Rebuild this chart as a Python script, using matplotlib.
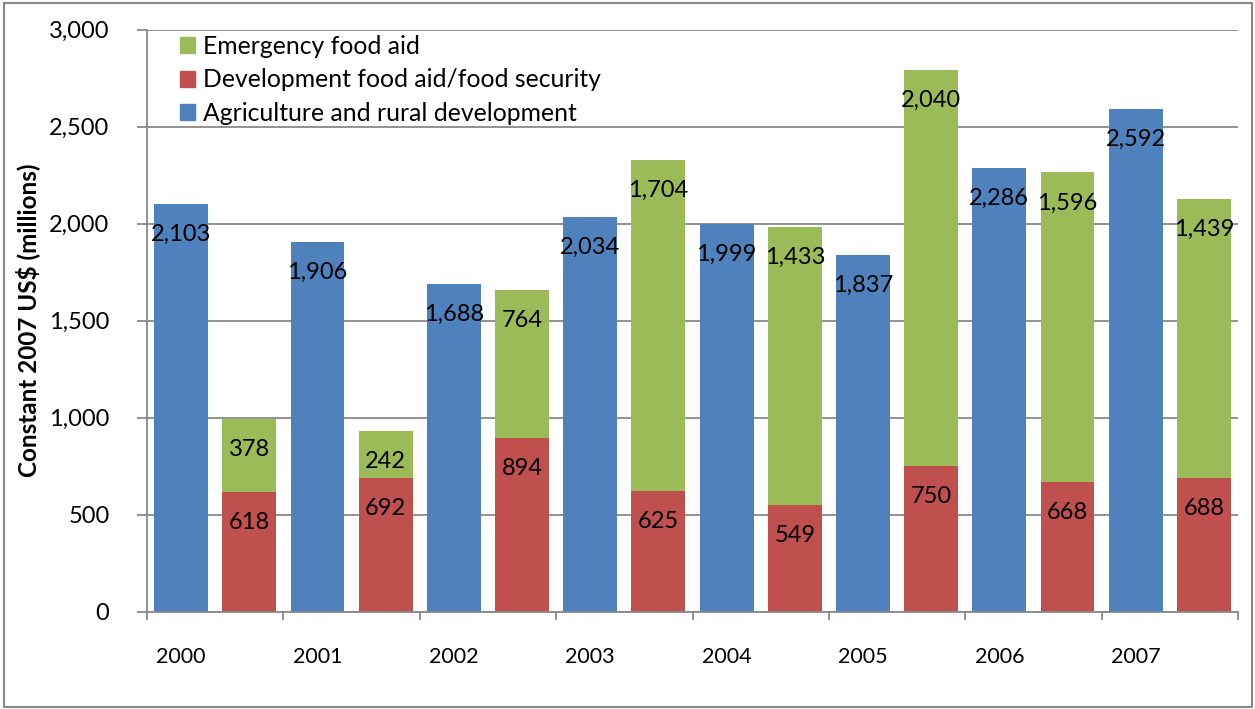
import matplotlib
matplotlib.use("Agg")
import matplotlib.pyplot as plt
import matplotlib.transforms as mtransforms
from matplotlib.patches import Patch, Rectangle
from matplotlib.ticker import FuncFormatter, MultipleLocator

years = ["2000", "2001", "2002", "2003", "2004", "2005", "2006", "2007"]
agriculture = [2103, 1906, 1688, 2034, 1999, 1837, 2286, 2592]
development = [618, 692, 894, 625, 549, 750, 668, 688]
emergency = [378, 242, 764, 1704, 1433, 2040, 1596, 1439]

BLUE = "#4F81BD"
RED = "#C0504D"
GREEN = "#9BBB59"
GREY = "#898989"

plt.rcParams["font.family"] = ["Lato", "DejaVu Sans"]
FS = 17

fig = plt.figure(figsize=(12.55, 7.09), dpi=100)
ax = fig.add_axes([147 / 1255, 1 - 612 / 709, (1238 - 147) / 1255, (612 - 29.5) / 709])

# each year gets two slots: agriculture alone, then food aid stacked
x_agri = [2 * i for i in range(len(years))]
x_food = [2 * i + 1 for i in range(len(years))]
width = 0.79

b_agri = ax.bar(x_agri, agriculture, width, color=BLUE, zorder=2)
b_dev = ax.bar(x_food, development, width, color=RED, zorder=2)
b_emg = ax.bar(x_food, emergency, width, bottom=development, color=GREEN, zorder=2)


def label_segments(bars, values, bottoms):
    for rect, v, b in zip(bars, values, bottoms):
        ax.annotate(f"{v:,}", (rect.get_x() + rect.get_width() / 2, b + v),
                    xytext=(0, -37 * 72 / 100), textcoords="offset points",
                    ha="center", va="baseline", fontsize=FS, zorder=3)


label_segments(b_agri, agriculture, [0] * len(years))
label_segments(b_dev, development, [0] * len(years))
label_segments(b_emg, emergency, development)

ax.set_xlim(-0.5, 15.5)
ax.set_ylim(0, 3000)
ax.yaxis.set_major_locator(MultipleLocator(500))
ax.yaxis.set_major_formatter(FuncFormatter(lambda v, p: f"{v:,.0f}"))
ax.grid(axis="y", color=GREY, linewidth=1.3, zorder=0)
ax.set_axisbelow(True)

ax.set_xticks([2 * i - 0.5 for i in range(len(years) + 1)])
ax.set_xticklabels([])
ax.tick_params(axis="x", direction="out", length=6, width=1.3, color=GREY)
ax.tick_params(axis="y", direction="out", length=7, width=1.3, color=GREY,
               labelsize=FS, pad=20)

# year names sit under the agriculture bar of each pair
trans = mtransforms.blended_transform_factory(ax.transData, fig.transFigure)
for xa, yr in zip(x_agri, years):
    ax.text(xa, 1 - 663 / 709, yr, transform=trans, ha="center", va="baseline",
            fontsize=15.5)

for side in ["top", "right"]:
    ax.spines[side].set_visible(False)
for side in ["left", "bottom"]:
    ax.spines[side].set_color(GREY)
    ax.spines[side].set_linewidth(1.3)

fig.text(28 / 1255, 1 - 320 / 709, "Constant 2007 US$ (millions)", rotation=90,
         ha="center", va="center", fontsize=17.5, fontweight="bold")

handles = [Patch(color=GREEN, label="Emergency food aid"),
           Patch(color=RED, label="Development food aid/food security"),
           Patch(color=BLUE, label="Agriculture and rural development")]
fig.legend(handles=handles, loc="upper left", bbox_to_anchor=(180 / 1255, 1 - 35 / 709),
           frameon=False, fontsize=17.8, handlelength=0.62, handleheight=0.62,
           handletextpad=0.3, labelspacing=0.42, borderpad=0, borderaxespad=0)

fig.patches.append(Rectangle((4 / 1255, 2 / 709), 1248 / 1255, 704 / 709,
                             transform=fig.transFigure, fill=False,
                             edgecolor=GREY, linewidth=1.5))

fig.savefig("out.png", dpi=100)
